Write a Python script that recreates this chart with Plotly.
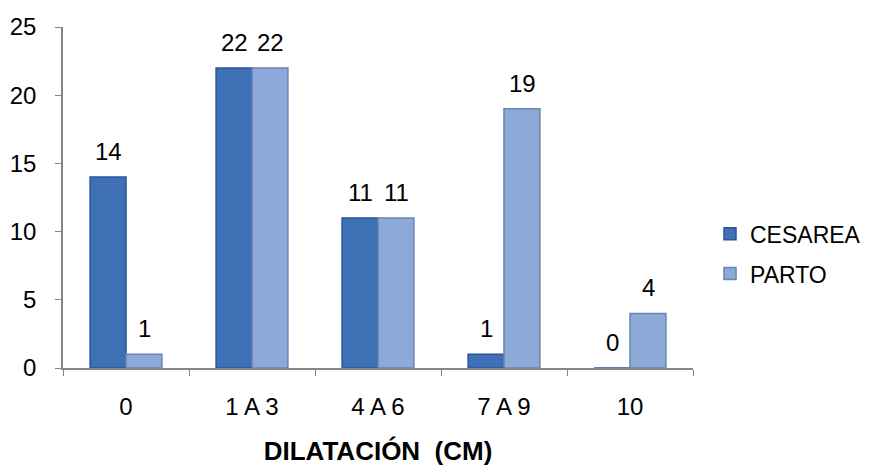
import plotly.graph_objects as go

categories = ["0", "1 A 3", "4 A 6", "7 A 9", "10"]
cesarea = [14, 22, 11, 1, 0]
parto = [1, 22, 11, 19, 4]

font_family = "Liberation Sans, Arial, sans-serif"
axis_gray = "#868686"
label_size = 24

series = [
    ("CESAREA", cesarea, "#3D70B5", "#2B5596", -18),
    ("PARTO", parto, "#8DA9D7", "#6983B3", 18),
]

fig = go.Figure()
for name, values, fill, edge, shift in series:
    fig.add_trace(go.Bar(
        name=name, x=categories, y=values, legendgroup=name,
        marker=dict(color=fill, line=dict(color=edge, width=1.5)),
    ))
    # value labels sitting a little above each bar (x given as category index)
    for idx, val in enumerate(values):
        fig.add_annotation(
            x=idx, y=val, text=str(val), showarrow=False,
            xanchor="center", yanchor="bottom", xshift=shift, yshift=10,
            font=dict(size=label_size, color="black", family=font_family),
        )

fig.update_layout(
    width=869, height=470,
    margin=dict(l=63, r=176, t=27, b=102, autoexpand=False),
    paper_bgcolor="white", plot_bgcolor="white",
    barmode="group", bargap=0.43, bargroupgap=0,
    font=dict(family=font_family, size=label_size, color="black"),
    showlegend=True,
    legend=dict(x=1.027, y=0.335, xanchor="left", yanchor="middle",
                font=dict(size=23), traceorder="grouped",
                tracegroupgap=7, itemwidth=30),
)

fig.update_xaxes(
    type="category", range=[-0.5, len(categories) - 0.5], tickangle=0,
    showline=True, linecolor=axis_gray, linewidth=1.5,
    ticks="outside", tickson="boundaries", ticklen=6, tickcolor=axis_gray,
    tickfont=dict(size=label_size), ticklabelstandoff=16,
    title=dict(text="<b>DILATACIÓN&nbsp; (CM)</b>", font=dict(size=26), standoff=23),
    showgrid=False, automargin=False,
)
fig.update_yaxes(
    range=[0, 25], dtick=5,
    showline=True, linecolor=axis_gray, linewidth=1.5,
    ticks="outside", ticklen=6, tickcolor=axis_gray,
    tickfont=dict(size=label_size), ticklabelstandoff=14,
    showgrid=False, zeroline=False, automargin=False,
)

fig.write_html("out.html")
